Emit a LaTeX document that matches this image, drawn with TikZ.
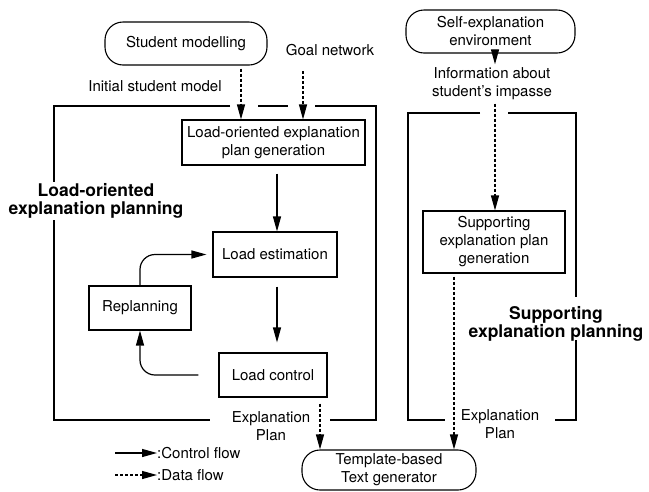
\documentclass[tikz,border=0pt]{standalone}
\usepackage{fontspec}
\setmainfont{TeX Gyre Heros}
\usetikzlibrary{arrows.meta,calc}

\begin{document}
\begin{tikzpicture}[x=1pt,y=-1pt,
		txt/.style={font=\fontsize{15}{18}\selectfont,align=center},
		lbl/.style={font=\fontsize{17.5}{18}\selectfont\bfseries,align=center},
		box/.style={draw,line width=1.1pt,txt,inner sep=3pt},
		term/.style={box,rounded corners=18pt},
		frame/.style={line width=1.2pt},
		ctl/.style={-{Triangle[length=15pt,width=8pt]},line width=1.2pt},
		data/.style={ctl,dash pattern=on 3pt off 2pt}]
		\useasboundingbox (0,0) rectangle (649,491);
		% left part
		\node[term,minimum width=162pt,minimum height=43pt] (stumod) at (186,43.5) {Student modelling};
		\node[txt] (goal) at (330,50) {Goal network};
		\node[txt] (init) at (155,86) {Initial student model};
		\node[box,minimum width=183pt,minimum height=45pt] (lpg) at (273.5,142.5) {Load-oriented explanation\\plan generation};
		\node[box,minimum width=124pt,minimum height=45pt] (lest) at (275,254.5) {Load estimation};
		\node[box,minimum width=102pt,minimum height=44pt] (repl) at (140,308) {Replanning};
		\node[box,minimum width=108pt,minimum height=44pt] (lctl) at (273,375) {Load control};
		\node[txt] (plana) at (271,426) {Explanation\\Plan};
		\draw[frame] (230,106)--(54,106)--(54,182);
		\draw[frame] (54,220)--(54,420)--(210,420);
		\draw[frame] (258,106)--(288,106);
		\draw[frame] (315,106)--(376,106)--(376,420)--(330,420);
		\node[lbl] (lolbl) at (96,201) {Load-oriented\\explanation planning};
		% right part
		\node[term,minimum width=169pt,minimum height=43pt] (selfenv) at (490.5,31.5) {Self-explanation\\environment};
		\node[txt] (info) at (492,84) {Information about\\student's impasse};
		\node[box,minimum width=142pt,minimum height=62pt] (sup) at (494,242) {Supporting\\explanation plan\\generation};
		\node[txt] (planb) at (500,424) {Explanation\\Plan};
		\draw[frame] (480,113)--(408,113)--(408,420)--(445,420);
		\draw[frame] (508,113)--(576,113)--(576,297);
		\draw[frame] (576,340)--(576,420)--(555,420);
		\node[lbl] (splbl) at (556,324) {Supporting\\explanation planning};
		% bottom
		\node[term,minimum width=174pt,minimum height=40pt] (tmpl) at (389,470) {Template-based\\Text generator};
		\coordinate (xa) at (241,0);
		\coordinate (xb) at (303,0);
		\coordinate (xc) at (320,0);
		\coordinate (xd) at (454,0);
		\coordinate (xe) at (495,0);
		\coordinate (xf) at (277,0);
		\draw[data,shorten <=3pt] (stumod.south -| xa)--(lpg.north -| xa);
		\draw[data,shorten <=12pt] (goal.south -| xb)--(lpg.north -| xb);
		\draw[ctl,shorten <=8pt] (lpg.south -| xf)--(lest.north -| xf);
		\draw[ctl,shorten <=9pt,shorten >=10pt] (lest.south -| xf)--(lctl.north -| xf);
		\draw[ctl,rounded corners=15pt,shorten >=6pt] (repl.north)|-(lest.west);
		\draw[ctl,rounded corners=15pt,shorten <=20pt] (lctl.west)-|(repl.south);
		\draw[data,shorten <=6pt] (lctl.south -| xc)--(tmpl.north -| xc);
		\draw[data] (selfenv.south -| xe)--(info.north -| xe);
		\draw[data] (info.south -| xe)--(sup.north -| xe);
		\draw[data,shorten <=3pt] (sup.south -| xd)--(tmpl.north -| xd);
		% legend
		\coordinate (cfa) at (115,453);
		\coordinate (dfa) at (115,475);
		\node[txt,anchor=west,inner sep=0pt] (cft) at (157,453) {:Control flow};
		\node[txt,anchor=west,inner sep=0pt] (dft) at (157,475) {:Data flow};
		\draw[ctl] (cfa)--(cft.west);
		\draw[data] (dfa)--(dft.west);
\end{tikzpicture}
\end{document}
